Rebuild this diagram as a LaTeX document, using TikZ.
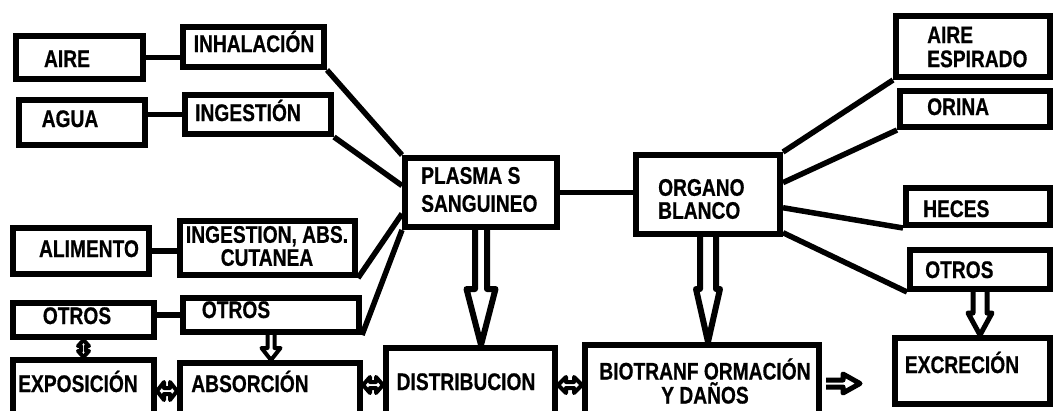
\documentclass[tikz,border=0pt]{standalone}
\usepackage{fontspec}
\setmainfont{Liberation Sans}[FakeStretch=0.8, BoldFeatures={FakeBold=0.6}]
\usetikzlibrary{calc}

\begin{document}
\begin{tikzpicture}[x=1pt, y=-1pt,
    box/.style={draw, rectangle, line width=6pt, inner sep=0pt},
    txt/.style={inner sep=0pt, font=\bfseries\fontsize{24}{24}\selectfont},
    link/.style={line width=5.5pt},
    hollow/.style n args={3}{fill=white, line join=round, to path={
        ($(\tikztostart)!#1!90:(\tikztotarget)$)
        -- ($($(\tikztotarget)!#3!(\tikztostart)$)!#1!90:(\tikztotarget)$)
        -- ($($(\tikztotarget)!#3!(\tikztostart)$)!#2!90:(\tikztotarget)$)
        -- (\tikztotarget)
        -- ($($(\tikztotarget)!#3!(\tikztostart)$)!#2!-90:(\tikztotarget)$)
        -- ($($(\tikztotarget)!#3!(\tikztostart)$)!#1!-90:(\tikztotarget)$)
        -- ($(\tikztostart)!#1!-90:(\tikztotarget)$)}},
    hollowtwo/.style n args={3}{fill=white, line join=round, to path={
        (\tikztostart)
        -- ($($(\tikztostart)!#3!(\tikztotarget)$)!#2!90:(\tikztotarget)$)
        -- ($($(\tikztostart)!#3!(\tikztotarget)$)!#1!90:(\tikztotarget)$)
        -- ($($(\tikztotarget)!#3!(\tikztostart)$)!#1!90:(\tikztotarget)$)
        -- ($($(\tikztotarget)!#3!(\tikztostart)$)!#2!90:(\tikztotarget)$)
        -- (\tikztotarget)
        -- ($($(\tikztotarget)!#3!(\tikztostart)$)!#2!-90:(\tikztotarget)$)
        -- ($($(\tikztotarget)!#3!(\tikztostart)$)!#1!-90:(\tikztotarget)$)
        -- ($($(\tikztostart)!#3!(\tikztotarget)$)!#1!-90:(\tikztotarget)$)
        -- ($($(\tikztostart)!#3!(\tikztotarget)$)!#2!-90:(\tikztotarget)$)
        -- cycle}}]

        \useasboundingbox (0, 0) rectangle (1054, 410);
        \clip (0, 0) rectangle (1054, 410);

        % Fuentes (izquierda)
        \node[box, minimum width=127pt, minimum height=43pt] (aire) at (79.5, 57.5) {};
        \node[txt, anchor=base] (airelbl) at (67, 67) {AIRE};
        \node[box, minimum width=126pt, minimum height=45pt] (agua) at (82, 122.5) {};
        \node[txt, anchor=base] (agualbl) at (70, 127) {AGUA};
        \node[box, minimum width=136pt, minimum height=46pt] (alim) at (81, 251) {};
        \node[txt, anchor=base] (alimlbl) at (89, 257) {ALIMENTO};
        \node[box, minimum width=141pt, minimum height=34pt] (otrosa) at (83.5, 320) {};
        \node[txt, anchor=base] (otrosalbl) at (77, 324) {OTROS};

        % Vias de entrada
        \node[box, minimum width=141pt, minimum height=40pt] (inhal) at (253.5, 47) {};
        \node[txt, anchor=base] (inhallbl) at (254, 52) {INHALACIÓN};
        \node[box, minimum width=146pt, minimum height=39pt] (inges) at (258, 114.5) {};
        \node[txt, anchor=base] (ingeslbl) at (248, 121) {INGESTIÓN};
        \node[box, minimum width=175pt, minimum height=54pt] (ingabs) at (267.5, 248) {};
        \node[txt, align=center, font=\bfseries\fontsize{24}{23}\selectfont] (ingabslbl) at (267, 246) {INGESTION, ABS.\\CUTANEA};
        \node[box, minimum width=176pt, minimum height=34pt] (otrosb) at (271, 315) {};
        \node[txt, anchor=base] (otrosblbl) at (236, 318) {OTROS};

        % Plasma y organo
        \node[box, minimum width=152pt, minimum height=69pt] (plasma) at (481, 192.5) {};
        \node[txt, align=left, anchor=west, font=\bfseries\fontsize{24}{28}\selectfont] (plasmalbl) at (421, 189.5) {PLASMA S\\SANGUINEO};
        \node[box, minimum width=144pt, minimum height=79pt] (organo) at (708, 194.5) {};
        \node[txt, align=left, anchor=west, font=\bfseries\fontsize{24}{23}\selectfont] (organolbl) at (658, 199) {ORGANO\\BLANCO};

        % Salidas (derecha)
        \node[box, minimum width=154pt, minimum height=61pt] (airesp) at (973, 46.5) {};
        \node[txt, align=left, anchor=west] (aireesplbl) at (927, 47) {AIRE\\ESPIRADO};
        \node[box, minimum width=150pt, minimum height=36pt] (orina) at (975, 109) {};
        \node[txt, anchor=base west] (orinalbl) at (927, 115) {ORINA};
        \node[box, minimum width=144pt, minimum height=37pt] (heces) at (978, 206.5) {};
        \node[txt, anchor=base west] (heceslbl) at (923, 217) {HECES};
        \node[box, minimum width=140pt, minimum height=39pt] (otrosc) at (980, 269.5) {};
        \node[txt, anchor=base west] (otrosclbl) at (925, 278) {OTROS};

        % Fila inferior
        \node[box, minimum width=141pt, minimum height=62pt] (expo) at (83.5, 391) {};
        \node[txt, anchor=base] (expolbl) at (78, 392) {EXPOSICIÓN};
        \node[box, minimum width=180pt, minimum height=59pt] (absor) at (270, 392.5) {};
        \node[txt, anchor=base] (absorlbl) at (250, 392) {ABSORCIÓN};
        \node[box, minimum width=169pt, minimum height=74pt] (distrib) at (470.5, 385) {};
        \node[txt, anchor=base] (distriblbl) at (466, 390) {DISTRIBUCION};
        \node[box, minimum width=234pt, minimum height=77pt] (biotr) at (702, 383.5) {};
        \node[txt, align=center] (biotrlbl) at (705, 381) {BIOTRANF ORMACIÓN\\Y DAÑOS};
        \node[box, minimum width=155pt, minimum height=66pt] (excr) at (972.5, 371) {};
        \node[txt, anchor=base] (excrlbl) at (962, 373) {EXCRECIÓN};

        % Lineas fuente - via
        \draw[link] (aire.east) -- (aire.east -| inhal.west);
        \draw[link] (inges.west -| agua.east) -- (inges.west);
        \draw[link] (alim.east) -- (alim.east -| ingabs.west);
        \draw[link] (otrosb.west -| otrosa.east) -- (otrosb.west);

        % Lineas hacia el plasma
        \draw[link] (inhal.south east) -- (plasma.north west);
        \draw[link] (inges.south east) -- (plasma.175);
        \draw[link] (ingabs.south east) -- (plasma.195);
        \draw[link] (otrosb.south east) -- (plasma.south west);
        \draw[link] (plasma.east) -- (plasma.east -| organo.west);

        % Lineas hacia las salidas
        \draw[link] (organo.north east) -- (airesp.south west);
        \draw[link] (organo.9) -- (orina.south west);
        \draw[link] (organo.350) -- (heces.south west);
        \draw[link] (organo.333) -- (otrosc.south west);

        % Flechas huecas
        \draw[line width=6pt, hollow={6pt}{14.5pt}{56pt}] (plasma.south) to (plasma.south |- distrib.north);
        \draw[line width=6pt, hollow={8pt}{12pt}{53pt}] (organo.south) to (organo.south |- biotr.north);
        \draw[line width=5pt, hollow={7pt}{12pt}{22pt}] (otrosc.south) to (otrosc.south |- excr.north);
        \draw[line width=4pt, hollow={3.5pt}{9.5pt}{12pt}] (otrosb.south) to (otrosb.south |- absor.north);
        \draw[line width=5pt, hollow={3.5pt}{9.5pt}{17pt}] ($(biotr.east)+(4, 0)$) to ($(biotr.east)+(38, 0)$);

        % Flechas dobles pequenas
        \draw[line width=4pt, hollowtwo={2.5pt}{5.5pt}{6pt}] (otrosa.south) to (expo.north);
        \draw[line width=4pt, hollowtwo={3pt}{9pt}{7pt}] (expo.east) to (expo.east -| absor.west);
        \draw[line width=4pt, hollowtwo={3pt}{8pt}{7pt}] (distrib.west -| absor.east) to (distrib.west);
        \draw[line width=4pt, hollowtwo={3pt}{8pt}{8pt}] (distrib.east) to (distrib.east -| biotr.west);

\end{tikzpicture}
\end{document}
